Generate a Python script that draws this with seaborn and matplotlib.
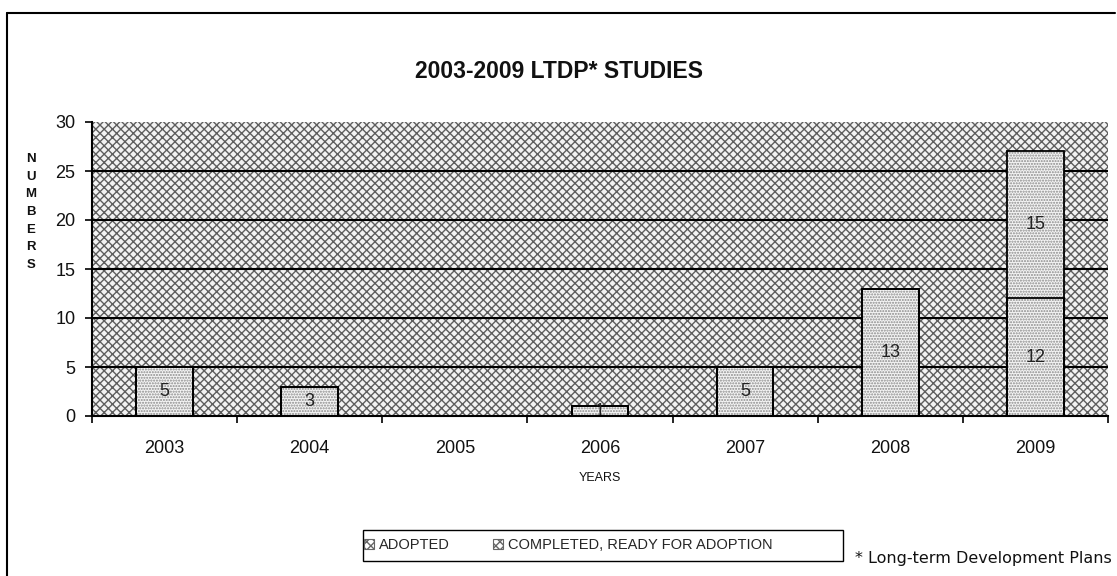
import matplotlib
matplotlib.use("Agg")
import matplotlib.pyplot as plt
from matplotlib.patches import Rectangle, Patch
from matplotlib.lines import Line2D
import seaborn as sns
import pandas as pd

years = ["2003", "2004", "2005", "2006", "2007", "2008", "2009"]
adopted = [5, 3, 0, 1, 5, 13, 12]
completed = [0, 0, 0, 0, 0, 0, 15]
series_names = ["ADOPTED", "COMPLETED, READY FOR ADOPTION"]
yticks = [0, 5, 10, 15, 20, 25, 30]

sns.set_theme(style="white")
plt.rcParams["font.family"] = ["Liberation Sans", "DejaVu Sans"]
plt.rcParams["hatch.linewidth"] = 1.0

W, H = 1117, 576
fig = plt.figure(figsize=(W / 100, H / 100), dpi=100)
fig.patch.set_facecolor("white")
ax = fig.add_axes([92 / W, 1 - 416 / H, (1108 - 92) / W, (416 - 122) / H])

# background pattern
ax.set_facecolor("white")
ax.add_patch(Rectangle((0, 0), 1, 1, transform=ax.transAxes, facecolor="#f2f2f2",
                       edgecolor="#5e5e5e", hatch="xxxx", lw=0, zorder=0))

df = pd.DataFrame({"year": years, "adopted": adopted, "completed": completed})
df["total"] = df["adopted"] + df["completed"]

bar_hatch = dict(color="#f4f4f4", edgecolor="#8a8a8a", hatch="......", linewidth=0)
bw = 0.39
# stacked: total first, then bottom series over it
sns.barplot(data=df, x="year", y="total", order=years, width=bw, ax=ax, zorder=3, **bar_hatch)
sns.barplot(data=df, x="year", y="adopted", order=years, width=bw, ax=ax, zorder=3, **bar_hatch)
sns.barplot(data=df, x="year", y="total", order=years, width=bw, ax=ax, zorder=4,
            fill=False, edgecolor="black", linewidth=1.3)
sns.barplot(data=df, x="year", y="adopted", order=years, width=bw, ax=ax, zorder=4,
            fill=False, edgecolor="black", linewidth=1.3)

# value labels
for i, (a, c) in enumerate(zip(adopted, completed)):
    if a:
        ax.text(i, a / 2, str(a), ha="center", va="center", fontsize=13, color="#222222", zorder=5)
    if c:
        ax.text(i, a + c / 2, str(c), ha="center", va="center", fontsize=13, color="#222222", zorder=5)

ax.set_ylim(0, 30)
ax.set_xlim(-0.5, len(years) - 0.5)
ax.set_yticks(yticks)
for y in yticks[1:-1]:
    ax.axhline(y, color="black", lw=1.5, zorder=1)

for s in ["top", "right"]:
    ax.spines[s].set_visible(False)
for s in ["left", "bottom"]:
    ax.spines[s].set_color("black")
    ax.spines[s].set_linewidth(1.5)
    ax.spines[s].set_zorder(6)

ax.tick_params(axis="y", which="major", left=True, length=5, width=1.2, color="black",
               pad=7, labelsize=13, labelcolor="#111111")
ax.tick_params(axis="x", which="major", bottom=False, length=0, pad=17, labelsize=13,
               labelcolor="#111111")
ax.set_xticks([i - 0.5 for i in range(len(years) + 1)], minor=True)
ax.tick_params(axis="x", which="minor", bottom=True, length=5, width=1.2, color="black")
ax.set_xlabel("")
ax.set_ylabel("")

# axis titles
fig.text(600 / W, 1 - 478 / H, "YEARS", ha="center", va="center", fontsize=9, color="#111111")
fig.text(31 / W, 1 - 212 / H, "\n".join("NUMBERS"), ha="center", va="center", fontsize=9.5,
         fontweight="bold", color="#111111", linespacing=1.62)

# title
fig.text(559 / W, 1 - 71 / H, "2003-2009 LTDP* STUDIES", ha="center", va="center",
         fontsize=16.5, fontweight="bold", color="#111111")

# legend
handles = [Patch(facecolor="white", edgecolor="#666666", hatch="xxxx", lw=0.8),
           Patch(facecolor="white", edgecolor="#666666", hatch="xxxx", lw=0.8)]
fig.legend(handles, series_names, loc="center left", bbox_to_anchor=(364 / W, 1 - 545 / H),
           ncol=2, frameon=False, fontsize=10.5, handlelength=0.7, handleheight=0.7,
           handletextpad=0.3, columnspacing=3.0, borderpad=0, borderaxespad=0)
fig.add_artist(Rectangle((363 / W, 1 - 561 / H), (843 - 363) / W, 31 / H,
                         transform=fig.transFigure, fill=False, edgecolor="black", lw=1.0))

fig.text(855 / W, 1 - 558 / H, "* Long-term Development Plans", ha="left", va="center",
         fontsize=11.5, family=["DejaVu Sans"], color="#111111")

# outer frame lines
fig.add_artist(Line2D([7 / W, 1115 / W], [1 - 13 / H, 1 - 13 / H], transform=fig.transFigure,
                      color="black", lw=1.5))
fig.add_artist(Line2D([7 / W, 7 / W], [0, 1 - 13 / H], transform=fig.transFigure,
                      color="black", lw=1.5))

fig.savefig("out.png", dpi=100, facecolor="white")
